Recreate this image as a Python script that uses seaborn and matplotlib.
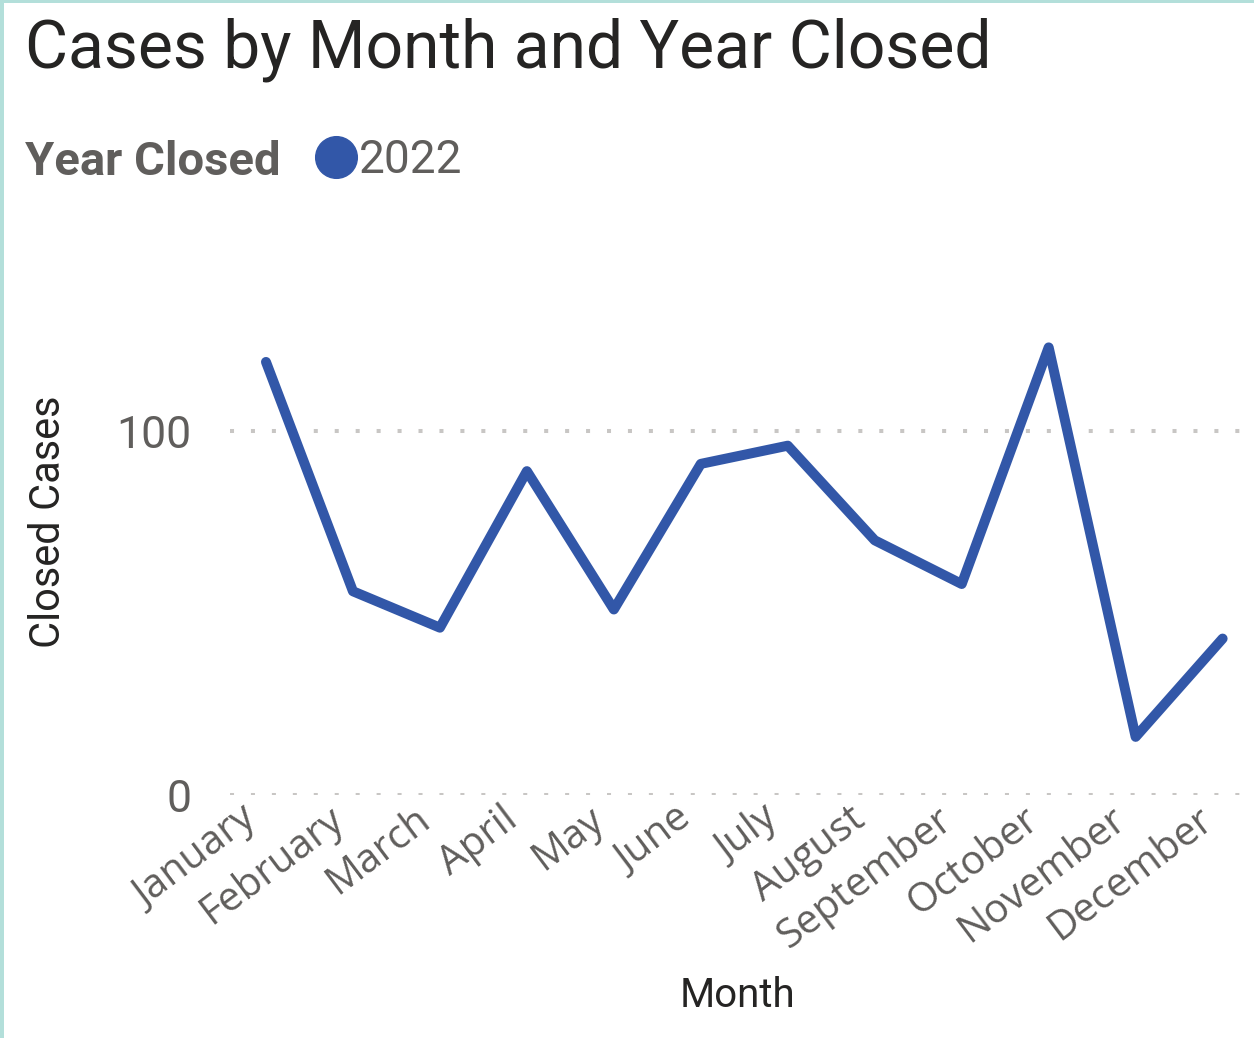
import matplotlib
matplotlib.use("Agg")
import matplotlib.pyplot as plt
import matplotlib.transforms as mtrans
from matplotlib.lines import Line2D
from matplotlib.patches import Rectangle
import seaborn as sns
import pandas as pd

# data
months = ["January", "February", "March", "April", "May", "June",
          "July", "August", "September", "October", "November", "December"]
closed_2022 = [119, 56, 46, 89, 51, 91, 96, 70, 58, 123, 16, 43]
year = "2022"
y_ticks = [0, 100]

df = pd.DataFrame({"Month": months, "Closed Cases": closed_2022, "Year Closed": year})

sns.set_theme(style="white")
plt.rcParams["font.family"] = ["Roboto", "DejaVu Sans"]

blue = "#3257A8"
grey = "#605E5C"

fig = plt.figure(figsize=(12.54, 10.38), dpi=100)
ax = fig.add_axes([0.1834, 0.234, 0.8096, 0.526])

sns.lineplot(data=df, x="Month", y="Closed Cases", hue="Year Closed",
             palette=[blue], sort=False, linewidth=7.2, ax=ax, legend=False,
             solid_capstyle="round", solid_joinstyle="round")

ax.set_xlim(-0.414, 11.26)
ax.set_ylim(0, 150)
ax.set_yticks(y_ticks)
ax.set_yticklabels([str(t) for t in y_ticks], fontsize=32, color=grey)
ax.tick_params(axis="y", length=0, pad=28)
ax.tick_params(axis="x", length=0, pad=3)
ax.set_xticks(range(len(months)))
ax.set_xticklabels(months, rotation=37, ha="right", rotation_mode="anchor",
                   fontsize=29, color=grey, family=["Open Sans", "DejaVu Sans"])
shift = mtrans.ScaledTranslation(-26 / 100, 0, fig.dpi_scale_trans)
for lbl in ax.get_xticklabels():
    lbl.set_transform(lbl.get_transform() + shift)
for t in y_ticks:
    ax.axhline(t, color="#C8C6C4", lw=2.9, linestyle=(0, (1, 4.2)),
               dash_capstyle="butt", zorder=0)
for s in ax.spines.values():
    s.set_visible(False)

ax.set_xlabel("Month", fontsize=29, color="#252423", labelpad=14)
ax.set_ylabel("Closed Cases", fontsize=30, color="#252423", labelpad=34)

fig.text(0.02, 0.935, "Cases by Month and Year Closed", fontsize=47.5,
         color="#252423", va="baseline")
fig.text(0.02, 0.831, "Year Closed", fontsize=34, fontweight="bold",
         color=grey, va="baseline")
handle = Line2D([], [], marker="o", linestyle="none", markersize=30,
                markerfacecolor=blue, markeredgecolor=blue)
fig.legend(handles=[handle], labels=[year], loc="center left",
           bbox_to_anchor=(0.250, 0.846), frameon=False, fontsize=33,
           handlelength=1.0, handletextpad=0.0, borderpad=0, borderaxespad=0,
           labelcolor=grey)

# teal frame on left and top edges
fig.add_artist(Rectangle((0, 0), 0.0035, 1, transform=fig.transFigure,
                         color="#B3DFDA", lw=0))
fig.add_artist(Rectangle((0, 0.997), 1, 0.003, transform=fig.transFigure,
                         color="#B3DFDA", lw=0))

fig.savefig("out.png", dpi=100)
